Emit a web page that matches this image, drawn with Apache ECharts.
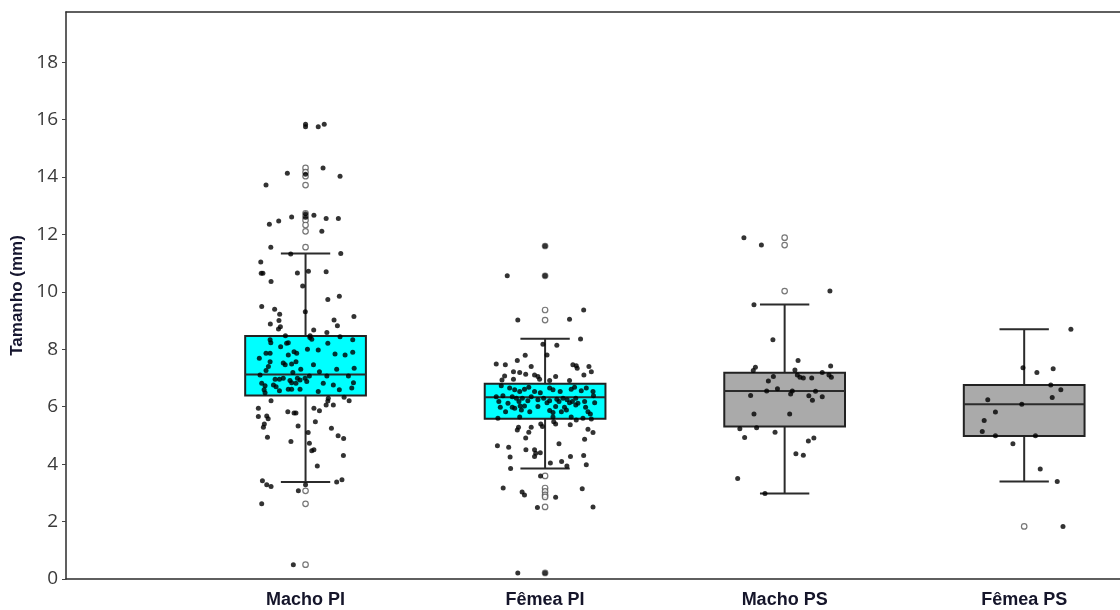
<!DOCTYPE html>
<html>
<head>
<meta charset="utf-8">
<script src="https://cdn.jsdelivr.net/npm/echarts@6/dist/echarts.min.js"></script>
<style>
html, body { margin: 0; padding: 0; background: #fff; }
#chart { width: 1120px; height: 610px; }
</style>
</head>
<body>
<div id="chart"></div>
<script>
const categories = ['Macho PI', 'Fêmea PI', 'Macho PS', 'Fêmea PS']
const yTicks = [0, 2, 4, 6, 8, 10, 12, 14, 16, 18]
// [lower whisker, Q1, median, Q3, upper whisker]
const boxStats = [
  [3.38, 6.39, 7.12, 8.46, 11.34],
  [3.85, 5.58, 6.33, 6.80, 8.37],
  [2.98, 5.31, 6.55, 7.18, 9.56],
  [3.40, 4.98, 6.09, 6.76, 8.70]
]
const boxColors = ['#00ffff', '#00ffff', '#aaaaaa', '#aaaaaa']

// outliers (drawn as open circles on the box centre)
const outliersMachoPI = [14.32, 14.17, 14.03, 13.72, 12.74, 12.62, 12.50, 12.33, 12.11, 11.56, 3.07, 2.62, 0.50]
const outliersFemeaPI = [11.60, 10.56, 9.37, 9.02, 3.59, 3.17, 3.05, 2.93, 2.86, 2.51, 0.21]
const outliersMachoPS = [11.89, 11.63, 10.03]
const outliersFemeaPS = [1.83]

// jittered observations [x position, size in mm]
const pointsMachoPI = [
  [1.000, 15.84], [1.000, 15.75], [1.053, 15.75], [1.078, 15.84],
  [1.000, 14.10], [0.924, 14.13], [1.073, 14.32], [1.144, 14.03], [0.835, 13.72],
  [1.000, 12.72], [1.000, 12.60], [0.849, 12.36], [0.888, 12.47], [0.942, 12.61], [1.035, 12.67],
  [1.086, 12.56], [1.137, 12.56], [1.068, 12.11],
  [0.855, 11.56], [0.938, 11.32], [1.147, 11.34], [0.813, 11.04], [0.815, 10.65], [0.822, 10.65],
  [0.966, 10.66], [1.012, 10.72], [1.086, 10.70], [0.856, 10.36], [0.988, 10.21],
  [1.141, 9.85], [1.093, 9.74], [0.817, 9.49], [0.871, 9.40], [0.892, 9.22], [0.999, 9.31],
  [0.853, 8.88], [0.889, 9.00], [0.895, 8.79], [0.887, 8.71], [1.119, 9.02], [1.133, 8.82],
  [1.202, 9.14], [1.034, 8.67], [1.089, 8.59], [1.018, 8.41],
  [0.852, 8.33], [0.855, 8.23], [0.916, 8.47], [0.896, 8.09], [0.921, 8.21], [0.928, 8.23],
  [1.019, 8.47], [1.026, 8.35], [1.093, 8.21], [1.144, 8.44], [1.197, 8.33],
  [0.835, 7.86], [0.807, 7.69], [0.852, 7.86], [0.928, 7.80], [0.952, 7.92], [0.963, 7.86],
  [1.008, 8.00], [1.053, 7.98], [1.123, 7.84], [1.165, 7.80], [1.197, 7.90],
  [0.852, 7.57], [0.845, 7.40], [0.907, 7.52], [0.915, 7.46], [0.942, 7.49], [0.960, 7.57],
  [0.980, 7.31], [1.033, 7.46], [1.058, 7.22], [1.130, 7.31], [1.203, 7.34], [0.835, 7.26],
  [0.947, 7.19], [0.810, 7.11], [0.873, 6.96], [0.891, 6.96], [0.907, 6.99], [0.966, 6.99],
  [0.977, 6.93], [0.998, 6.99], [1.016, 7.07], [1.089, 7.07], [1.179, 7.07],
  [0.817, 6.82], [0.831, 6.73], [0.866, 6.76], [0.877, 6.70], [0.935, 6.91], [0.942, 6.84],
  [0.960, 6.82], [1.005, 6.88], [1.074, 6.82], [1.116, 6.76], [1.200, 6.84],
  [0.827, 6.59], [0.831, 6.49], [0.891, 6.56], [0.928, 6.61], [0.942, 6.61], [0.977, 6.61],
  [1.053, 6.53], [1.141, 6.59], [1.193, 6.65],
  [0.856, 6.21], [1.093, 6.20], [1.086, 6.06], [1.095, 6.30], [1.116, 6.06], [1.161, 6.33],
  [1.182, 6.21], [0.803, 5.95], [0.803, 5.66], [0.838, 5.68], [0.844, 5.58], [0.828, 5.40],
  [0.824, 5.29], [0.926, 5.83], [0.952, 5.78], [0.960, 5.78], [1.035, 5.95], [1.058, 5.86],
  [1.041, 5.48], [0.969, 5.33], [0.841, 4.94], [0.939, 4.79], [1.011, 5.10], [1.016, 4.73],
  [1.026, 4.47], [1.035, 4.50], [1.108, 5.25], [1.136, 4.99], [1.159, 4.89], [1.158, 4.30],
  [1.049, 3.94], [0.820, 3.42], [0.838, 3.28], [0.856, 3.22], [1.000, 3.28], [0.970, 3.07],
  [1.130, 3.38], [1.152, 3.46], [0.817, 2.62], [0.949, 0.50]
]
const pointsFemeaPI = [
  [2.000, 11.60], [2.000, 10.56], [1.842, 10.56], [2.161, 9.37], [1.886, 9.02], [2.102, 9.05],
  [2.148, 8.36], [1.991, 8.18], [2.049, 8.14], [2.008, 7.80], [1.917, 7.79],
  [1.796, 7.49], [1.834, 7.46], [1.884, 7.61], [1.942, 7.40], [2.116, 7.46], [2.130, 7.43],
  [2.134, 7.34], [2.183, 7.40], [2.193, 7.22], [2.162, 7.11], [1.831, 7.07], [1.868, 7.22],
  [1.894, 7.19], [1.919, 7.13], [1.956, 7.11], [1.970, 7.05], [1.977, 6.96], [2.044, 7.05],
  [1.820, 6.93], [1.868, 6.96], [2.019, 6.91], [2.102, 6.91],
  [1.817, 6.73], [1.852, 6.65], [1.873, 6.59], [1.894, 6.53], [1.914, 6.61], [1.932, 6.68],
  [1.956, 6.53], [1.980, 6.49], [2.019, 6.65], [2.033, 6.59], [2.063, 6.53], [2.109, 6.61],
  [2.123, 6.68], [2.151, 6.56], [2.172, 6.65], [2.200, 6.53],
  [1.796, 6.35], [1.824, 6.38], [1.863, 6.35], [1.880, 6.30], [1.905, 6.30], [1.942, 6.35],
  [1.970, 6.24], [1.994, 6.30], [2.049, 6.26], [2.075, 6.30], [2.092, 6.24], [2.128, 6.30],
  [2.202, 6.38], [1.807, 6.18], [1.845, 6.12], [1.891, 6.18], [1.896, 6.03], [1.928, 6.21],
  [2.008, 6.14], [2.019, 6.21], [2.058, 6.18], [2.102, 6.14], [2.114, 6.18], [2.137, 6.12],
  [2.165, 6.18], [2.207, 6.14], [1.813, 5.98], [1.863, 5.98], [1.873, 5.95], [1.914, 6.03],
  [1.970, 6.01], [2.044, 6.01], [2.081, 5.98], [2.128, 6.06], [2.169, 5.98],
  [1.835, 5.83], [1.901, 5.89], [1.936, 5.83], [2.019, 5.87], [2.033, 5.80], [2.068, 5.83],
  [2.089, 5.89], [2.179, 5.83], [2.189, 5.75], [1.803, 5.60], [1.894, 5.64], [2.033, 5.64],
  [2.109, 5.64], [2.158, 5.60], [2.193, 5.57],
  [1.889, 5.29], [1.884, 5.19], [1.942, 5.29], [1.932, 5.11], [1.982, 5.40], [1.989, 5.31],
  [2.036, 5.48], [2.044, 5.40], [2.105, 5.37], [2.130, 5.54], [2.179, 5.22], [2.200, 5.10],
  [1.919, 4.91], [2.165, 4.87], [1.801, 4.64], [1.848, 4.59], [1.920, 4.50], [1.956, 4.50],
  [1.961, 4.38], [1.980, 4.40], [2.058, 4.71], [1.854, 4.25], [1.956, 4.27], [2.106, 4.27],
  [2.161, 4.30], [2.022, 4.04], [2.069, 4.09], [2.091, 3.94], [2.172, 3.98], [1.856, 3.85],
  [1.981, 3.59], [1.825, 3.17], [1.904, 3.03], [1.914, 2.93], [2.044, 2.85], [2.155, 3.14],
  [1.968, 2.49], [2.200, 2.51], [1.886, 0.21], [2.000, 0.21]
]
const pointsMachoPS = [
  [2.830, 11.89], [2.903, 11.63], [3.189, 10.03], [2.872, 9.55], [2.951, 8.33], [3.056, 7.61],
  [2.878, 7.38], [2.869, 7.26], [3.043, 7.28], [3.192, 7.42], [2.953, 7.05], [2.932, 6.90],
  [3.053, 7.11], [3.064, 7.03], [3.078, 7.00], [3.113, 7.00], [3.157, 7.19], [3.185, 7.11],
  [3.195, 7.03], [2.925, 6.55], [2.970, 6.63], [3.032, 6.55], [3.025, 6.44], [3.129, 6.54],
  [2.858, 6.39], [3.101, 6.38], [3.116, 6.23], [3.157, 6.35], [2.872, 5.75], [3.021, 5.75],
  [2.813, 5.23], [2.883, 5.27], [2.960, 5.11], [2.833, 4.93], [3.099, 4.81], [3.122, 4.91],
  [3.047, 4.36], [3.078, 4.31], [2.804, 3.50], [2.918, 2.98]
]
const pointsFemeaPS = [
  [4.195, 8.70], [3.995, 7.36], [4.053, 7.19], [4.121, 7.32], [4.111, 6.76], [4.153, 6.59],
  [4.117, 6.32], [3.848, 6.24], [3.990, 6.09], [3.880, 5.82], [3.833, 5.52], [3.825, 5.14],
  [3.880, 4.99], [4.047, 4.99], [3.953, 4.71], [4.067, 3.83], [4.138, 3.40], [4.162, 1.83]
]

const chart = echarts.init(document.getElementById('chart'))

const outlierData = []
;[outliersMachoPI, outliersFemeaPI, outliersMachoPS, outliersFemeaPS].forEach((list, i) => {
  list.forEach(v => outlierData.push([i + 1, v]))
})
const pointData = [].concat(pointsMachoPI, pointsFemeaPI, pointsMachoPS, pointsFemeaPS)

const lineColor = '#2b2b2b'

chart.setOption({
  animation: false,
  backgroundColor: '#fff',
  grid: { left: 66, right: 0, top: 12, bottom: 31 },
  xAxis: [
    {
      type: 'value',
      min: 0,
      max: 4.4,
      axisLine: { show: true, onZero: false, lineStyle: { color: lineColor, width: 1.5 } },
      axisTick: { show: false },
      splitLine: { show: false },
      axisLabel: {
        customValues: [1, 2, 3, 4],
        formatter: v => categories[v - 1] || '',
        margin: 12,
        fontFamily: 'Liberation Sans',
        fontWeight: 'bold',
        fontSize: 18,
        color: '#15152a'
      }
    },
    {
      type: 'value',
      position: 'top',
      min: 0,
      max: 4.4,
      axisLine: { show: true, onZero: false, lineStyle: { color: lineColor, width: 1.5 } },
      axisTick: { show: false },
      axisLabel: { show: false },
      splitLine: { show: false }
    }
  ],
  yAxis: {
    type: 'value',
    min: 0,
    max: 19.75,
    offset: 2,
    name: 'Tamanho (mm)',
    nameLocation: 'middle',
    nameRotate: 90,
    nameGap: 37,
    nameTextStyle: {
      fontFamily: 'Liberation Sans',
      fontWeight: 'bold',
      fontSize: 17,
      color: '#15152e'
    },
    axisLine: { show: true, lineStyle: { color: lineColor, width: 1.5 } },
    axisTick: { show: true, length: 4, customValues: yTicks, lineStyle: { color: '#444' } },
    splitLine: { show: false },
    axisLabel: {
      customValues: yTicks,
      margin: 6,
      fontFamily: 'Open Sans',
      fontSize: 19,
      color: '#3a3a3a'
    }
  },
  series: [
    {
      type: 'custom',
      data: boxStats.map((s, i) => [i + 1, ...s]),
      encode: { x: 0, y: [1, 2, 3, 4, 5] },
      renderItem(params, api) {
        const k = api.value(0)
        const lo = api.coord([k, api.value(1)])
        const q1 = api.coord([k, api.value(2)])
        const md = api.coord([k, api.value(3)])
        const q3 = api.coord([k, api.value(4)])
        const hi = api.coord([k, api.value(5)])
        const band = api.size([1, 0])[0]
        const hw = band * 0.252
        const cw = band * 0.103
        const st = { stroke: lineColor, lineWidth: 2, fill: null }
        return {
          type: 'group',
          children: [
            { type: 'line', shape: { x1: lo[0], y1: lo[1], x2: q1[0], y2: q1[1] }, style: st },
            { type: 'line', shape: { x1: q3[0], y1: q3[1], x2: hi[0], y2: hi[1] }, style: st },
            { type: 'line', shape: { x1: lo[0] - cw, y1: lo[1], x2: lo[0] + cw, y2: lo[1] }, style: st },
            { type: 'line', shape: { x1: hi[0] - cw, y1: hi[1], x2: hi[0] + cw, y2: hi[1] }, style: st },
            {
              type: 'rect',
              shape: { x: q3[0] - hw, y: q3[1], width: hw * 2, height: q1[1] - q3[1] },
              style: { fill: boxColors[params.dataIndex], stroke: '#222', lineWidth: 2 }
            },
            { type: 'line', shape: { x1: md[0] - hw, y1: md[1], x2: md[0] + hw, y2: md[1] }, style: st }
          ]
        }
      }
    },
    {
      type: 'scatter',
      data: outlierData,
      symbol: 'circle',
      symbolSize: 5.5,
      itemStyle: { color: '#fff', borderColor: '#555', borderWidth: 1.2 }
    },
    {
      type: 'scatter',
      data: pointData,
      symbol: 'circle',
      symbolSize: 5,
      itemStyle: { color: '#000' }
    }
  ]
})
</script>
</body>
</html>
